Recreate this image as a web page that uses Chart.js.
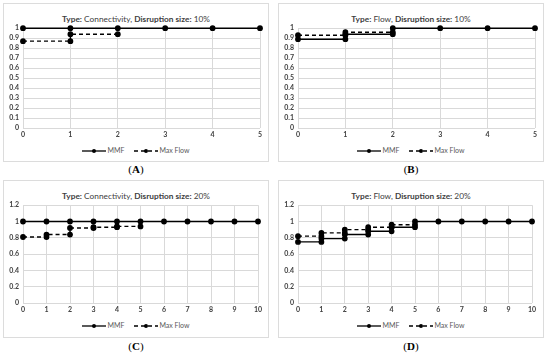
<!DOCTYPE html>
<html>
<head>
<meta charset="utf-8">
<script src="https://cdn.jsdelivr.net/npm/chart.js@4/dist/chart.umd.min.js"></script>
<style>
  body { margin: 0; width: 550px; height: 359px; background: #fff; position: relative; overflow: hidden; font-family: Lato, "Open Sans", sans-serif; }
  .box { position: absolute; border: 1px solid #dcdcdc; box-sizing: border-box; }
  .ttl { position: absolute; left: 0; right: 0; text-align: center; font-size: 8.3px; color: #404040; white-space: nowrap; }
  .leg { position: absolute; left: 0; right: 0; text-align: center; font-size: 7px; color: #595959; white-space: nowrap; }
  .leg svg { vertical-align: middle; margin-right: 1px; }
  .leg span { margin-right: 10px; }
  canvas { position: absolute; }
  .lbl { position: absolute; width: 60px; text-align: center; font-family: "Liberation Serif", serif; font-size: 11px; color: #000; }
</style>
</head>
<body>
<div id="wrap"></div>
<script>
// panel A: Connectivity, 10%
const aMmfX = [0, 1, 2, 3, 4, 5];
const aMmfY = [1, 1, 1, 1, 1, 1];
const aMaxX = [0, 1, 1, 2];
const aMaxY = [0.87, 0.87, 0.94, 0.94];

// panel B: Flow, 10%
const bMmfX = [0, 1, 1, 2, 2, 3, 4, 5];
const bMmfY = [0.89, 0.89, 0.94, 0.94, 1, 1, 1, 1];
const bMaxX = [0, 1, 1, 2];
const bMaxY = [0.93, 0.93, 0.96, 0.96];

// panel C: Connectivity, 20%
const cMmfX = [0, 1, 2, 3, 4, 5, 6, 7, 8, 9, 10];
const cMmfY = [1, 1, 1, 1, 1, 1, 1, 1, 1, 1, 1];
const cMaxX = [0, 1, 1, 2, 2, 3, 3, 4, 4, 5];
const cMaxY = [0.81, 0.81, 0.84, 0.84, 0.92, 0.92, 0.93, 0.93, 0.94, 0.94];

// panel D: Flow, 20%
const dMmfX = [0, 1, 1, 2, 2, 3, 3, 4, 4, 5, 5, 6, 7, 8, 9, 10];
const dMmfY = [0.75, 0.75, 0.79, 0.79, 0.84, 0.84, 0.88, 0.88, 0.93, 0.93, 1, 1, 1, 1, 1, 1];
const dMaxX = [0, 1, 1, 2, 2, 3, 3, 4, 4, 5];
const dMaxY = [0.82, 0.82, 0.86, 0.86, 0.90, 0.90, 0.93, 0.93, 0.96, 0.96];

const seriesNames = ['MMF', 'Max Flow'];
const panelLabels = ['A', 'B', 'C', 'D'];

const panels = [
  { type: 'Connectivity', size: '10%', mmf: [aMmfX, aMmfY], max: [aMaxX, aMaxY], xMax: 5, yMax: 1, yStep: 0.1,
    box: [3, 3, 266, 159], plot: [23, 28, 260, 128] },
  { type: 'Flow', size: '10%', mmf: [bMmfX, bMmfY], max: [bMaxX, bMaxY], xMax: 5, yMax: 1, yStep: 0.1,
    box: [278, 3, 266, 159], plot: [298, 28, 535, 128] },
  { type: 'Connectivity', size: '20%', mmf: [cMmfX, cMmfY], max: [cMaxX, cMaxY], xMax: 10, yMax: 1.2, yStep: 0.2,
    box: [3, 180, 266, 158], plot: [23, 205, 258, 303] },
  { type: 'Flow', size: '20%', mmf: [dMmfX, dMmfY], max: [dMaxX, dMaxY], xMax: 10, yMax: 1.2, yStep: 0.2,
    box: [278, 180, 266, 158], plot: [298, 205, 532, 303] }
];

function pts(xs, ys) {
  return xs.map((x, i) => ({ x: x, y: ys[i] }));
}

const legendSvg = (dash) =>
  `<svg width="24" height="6"><line x1="0" y1="3" x2="24" y2="3" stroke="#000" stroke-width="1.3" ${dash ? 'stroke-dasharray="4,3"' : ''}/><circle cx="12" cy="3" r="2" fill="#000"/></svg>`;

const wrap = document.getElementById('wrap');

panels.forEach((p, idx) => {
  const [bl, bt, bw, bh] = p.box;
  const [pl, pt, pr, pb] = p.plot;

  const box = document.createElement('div');
  box.className = 'box';
  box.style.left = bl + 'px';
  box.style.top = bt + 'px';
  box.style.width = bw + 'px';
  box.style.height = bh + 'px';
  wrap.appendChild(box);

  const ttl = document.createElement('div');
  ttl.className = 'ttl';
  ttl.style.top = (pt - bt - 19 + 4) + 'px';
  ttl.innerHTML = `<b>Type:</b> ${p.type}, <b>Disruption size:</b> ${p.size}`;
  box.appendChild(ttl);

  const leg = document.createElement('div');
  leg.className = 'leg';
  leg.style.top = (pb - bt + 17) + 'px';
  leg.innerHTML = `<span>${legendSvg(false)}${seriesNames[0]}</span><span style="margin-right:0">${legendSvg(true)}${seriesNames[1]}</span>`;
  box.appendChild(leg);

  // canvas covers y tick labels + plot + x tick labels
  const cLeft = bl + 1, cTop = pt - 8, cW = bw - 2, cH = (pb - pt) + 8 + 14;
  const cv = document.createElement('canvas');
  cv.style.left = cLeft + 'px';
  cv.style.top = cTop + 'px';
  cv.style.width = cW + 'px';
  cv.style.height = cH + 'px';
  cv.width = cW;
  cv.height = cH;
  wrap.appendChild(cv);

  const yW = pl - cLeft;
  const padR = cLeft + cW - pr;

  new Chart(cv.getContext('2d'), {
    type: 'scatter',
    data: {
      datasets: [
        { label: seriesNames[0], data: pts(p.mmf[0], p.mmf[1]), showLine: true, borderColor: '#000', backgroundColor: '#000',
          borderWidth: 1.4, pointRadius: 2.2, pointHoverRadius: 2.2, clip: 6 },
        { label: seriesNames[1], data: pts(p.max[0], p.max[1]), showLine: true, borderColor: '#000', backgroundColor: '#000',
          borderWidth: 1.4, borderDash: [4, 3], pointRadius: 2.2, pointHoverRadius: 2.2, clip: 6 }
      ]
    },
    options: {
      responsive: false,
      animation: false,
      layout: { padding: { left: 0, right: padR, top: 8, bottom: 0 } },
      plugins: { legend: { display: false }, tooltip: { enabled: false } },
      scales: {
        x: {
          type: 'linear', min: 0, max: p.xMax,
          ticks: { stepSize: 1, padding: 3, autoSkip: false, color: '#404040', font: { family: 'Lato', size: 7, weight: 'bold' }, maxRotation: 0 },
          grid: { color: '#d9d9d9', lineWidth: 1, drawTicks: false },
          border: { display: false },
          afterFit: (s) => { s.height = 14; }
        },
        y: {
          min: 0, max: p.yMax,
          ticks: { stepSize: p.yStep, padding: 4, autoSkip: false, color: '#404040', font: { family: 'Lato', size: 7, weight: 'bold' },
            callback: (v) => String(Math.round(v * 10) / 10) },
          grid: { color: '#d9d9d9', lineWidth: 1, drawTicks: false },
          border: { display: false },
          afterFit: (s) => { s.width = yW; }
        }
      }
    }
  });

  const lbl = document.createElement('div');
  lbl.className = 'lbl';
  lbl.style.left = (bl + bw / 2 - 30) + 'px';
  lbl.style.top = (idx < 2 ? 163 : 340) + 'px';
  lbl.innerHTML = `(<b>${panelLabels[idx]}</b>)`;
  wrap.appendChild(lbl);
});
</script>
</body>
</html>
